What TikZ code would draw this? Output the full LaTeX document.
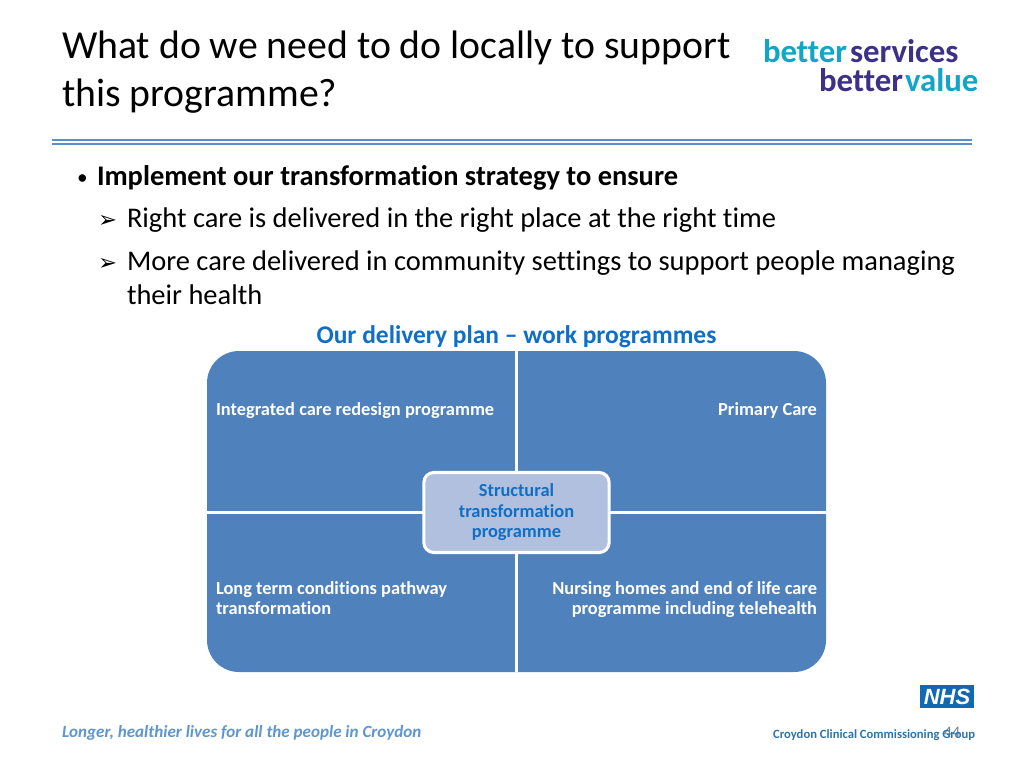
\documentclass[tikz,border=0pt]{standalone}
\usepackage{fontspec}
\setmainfont[Ligatures=NoCommon]{Carlito}
\newfontfamily\nhsfont{Liberation Sans}
\newfontfamily\symfont{DejaVu Sans}
\usetikzlibrary{positioning}
\definecolor{quadblue}{HTML}{4F81BD}
\definecolor{hubfill}{HTML}{B0C0DE}
\definecolor{planblue}{HTML}{0F6FC6}
\definecolor{ruleblue}{HTML}{5B8FC9}
\definecolor{tealtext}{HTML}{12A5C8}
\definecolor{purpletext}{HTML}{3C3087}
\definecolor{croydonblue}{HTML}{2F74A8}
\definecolor{nhsblue}{HTML}{1268B3}
\definecolor{footblue}{HTML}{5E96CF}
\tikzset{every node/.style={inner sep=0pt, outer sep=0pt}}
\tikzstyle{quadrant} = [fill=quadblue]
\tikzstyle{divider}  = [draw=white, line width=2.3pt]
\tikzstyle{quadtext} = [text=white, align=left, font=\fontsize{13.8}{15.2}\selectfont\bfseries]
\tikzstyle{hub}      = [rectangle, rounded corners=7.5pt, minimum width=139pt, minimum height=60pt, fill=hubfill, draw=white, line width=2.3pt, align=center, text=planblue, font=\fontsize{13.8}{15.4}\selectfont\bfseries]
\tikzstyle{bodytext} = [anchor=base west, font=\fontsize{21.35}{23}\selectfont]
\tikzstyle{titletext} = [anchor=base west, font=\fontsize{29.8}{32}\selectfont]
\tikzstyle{logotext} = [anchor=base west, font=\fontsize{24.6}{26}\selectfont\bfseries]
\tikzstyle{arrowmark} = [anchor=base west, font=\symfont\fontsize{17}{18}\selectfont]
\begin{document}
\begin{tikzpicture}[x=0.75pt, y=-0.75pt]
    \useasboundingbox (0,0) rectangle (1024,768);
    \fill[white] (0,0) rectangle (1024,768);

    % title
    \node (title1) at (62,58)  [titletext] {What do we need to do locally to support};
    \node (title2) at (62,106) [titletext] {this programme?};

    % logo
    \node (bet1) at (763,62) [logotext, text=tealtext]   {better};
    \node (serv) at (850,62) [logotext, text=purpletext] {services};
    \node (bet2) at (819,91) [logotext, text=purpletext] {better};
    \node (valu) at (905,91) [logotext, text=tealtext]   {value};

    % double rule
    \draw[ruleblue, line width=0.9pt] (52,140) -- (972,140);
    \draw[ruleblue, line width=0.9pt] (52,144) -- (972,144);

    % bullets
    \node (b0) at (77,184)    [anchor=base west, font=\fontsize{16}{18}\selectfont] {•};
    \node (l0) at (97,185)    [bodytext] {\bfseries Implement our transformation strategy to ensure};
    \node (b1) at (98,227)    [arrowmark] {➢};
    \node (l1) at (127,227.5) [bodytext] {Right care is delivered in the right place at the right time};
    \node (b2) at (98,270)    [arrowmark] {➢};
    \node (l2) at (127,270)   [bodytext] {More care delivered in community settings to support people managing};
    \node (l3) at (127,304)   [bodytext] {their health};

    \node (plan) at (516.5,343) [anchor=base, text=planblue, font=\fontsize{19.1}{20}\selectfont\bfseries] {Our delivery plan – work programmes};

    % four quadrants
    \fill[quadrant] (516.5,351) [rounded corners=24] -- (207,351) [sharp corners] -- (207,512.5) -- (516.5,512.5) -- cycle;
    \fill[quadrant] (516.5,351) [rounded corners=24] -- (826,351) [sharp corners] -- (826,512.5) -- (516.5,512.5) -- cycle;
    \fill[quadrant] (516.5,672) [rounded corners=24] -- (207,672) [sharp corners] -- (207,512.5) -- (516.5,512.5) -- cycle;
    \fill[quadrant] (516.5,672) [rounded corners=24] -- (826,672) [sharp corners] -- (826,512.5) -- (516.5,512.5) -- cycle;

    \node (hub) at (516.5,512.5) [hub] {Structural\\transformation\\programme};

    \coordinate (topC) at (516.5,351);
    \coordinate (botC) at (516.5,672);
    \coordinate (lefC) at (207,512.5);
    \coordinate (rigC) at (826,512.5);
    \draw[divider] (topC) -- (hub.north);
    \draw[divider] (hub.south) -- (botC);
    \draw[divider] (lefC) -- (hub.west);
    \draw[divider] (hub.east) -- (rigC);

    \node (q1) at (216,415.5) [quadtext, anchor=base west] {Integrated care redesign programme};
    \node (q2) at (817,415.5) [quadtext, anchor=base east] {Primary Care};
    \node (q3) at (216,594.5) [quadtext, anchor=base west] {Long term conditions pathway};
    \node (q3b) at (216,614.5) [quadtext, anchor=base west] {transformation};
    \node (q4) at (817,594.5) [quadtext, anchor=base east] {Nursing homes and end of life care};
    \node (q4b) at (817,614.5) [quadtext, anchor=base east] {programme including telehealth};

    % footer
    \node (foot) at (62,737) [anchor=base west, text=footblue, font=\fontsize{12.8}{14}\selectfont\bfseries\itshape] {Longer, healthier lives for all the people in Croydon};
    \node (nhs) at (947,696.5) [fill=nhsblue, minimum width=41pt, minimum height=17pt, text=white, font=\nhsfont\fontsize{16.5}{17}\selectfont\bfseries\itshape] {NHS};
    \node (num) at (952,737) [anchor=base, text=gray, font=\fontsize{12}{14}\selectfont] {44};
    \node (ccg) at (975,738) [anchor=base east, text=croydonblue, font=\fontsize{9.45}{11}\selectfont\bfseries] {Croydon Clinical Commissioning Group};
\end{tikzpicture}
\end{document}
